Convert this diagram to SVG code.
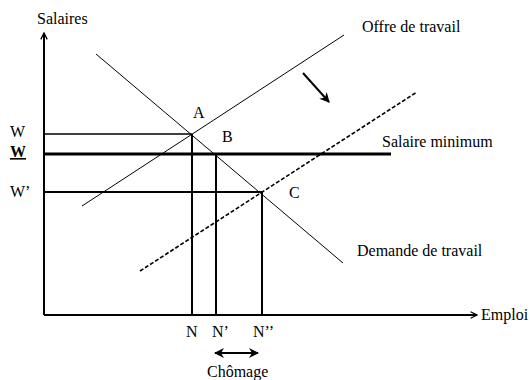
<svg xmlns="http://www.w3.org/2000/svg" width="530" height="380" viewBox="0 0 530 380">
<defs>
<marker id="ah" viewBox="0 0 10 10" refX="9" refY="5" markerWidth="5" markerHeight="5" orient="auto-start-reverse" markerUnits="userSpaceOnUse">
<path d="M0,0 L10,5 L0,10 L3,5 Z" fill="#000"/>
</marker>
<marker id="ax" viewBox="0 0 10 10" refX="9" refY="5" markerWidth="8" markerHeight="8" orient="auto" markerUnits="userSpaceOnUse">
<path d="M1,1 L9,5 L1,9" fill="none" stroke="#000" stroke-width="1.6"/>
</marker>
<marker id="big" viewBox="0 0 10 10" refX="9" refY="5" markerWidth="10" markerHeight="10" orient="auto-start-reverse" markerUnits="userSpaceOnUse">
<path d="M0,0 L10,5 L0,10 L3,5 Z" fill="#000"/>
</marker>
</defs>
<style>
text{font-family:"Liberation Serif","Times New Roman",serif;font-size:16px;fill:#000}
.thin{stroke:#000;stroke-width:1;fill:none}
.axis{stroke:#000;stroke-width:2;fill:none}
.v{stroke:#000;stroke-width:2;fill:none}
</style>
<rect width="530" height="380" fill="#fff"/>
<g id="connectors">
<line id="yaxis" class="axis" x1="44" y1="315" x2="44" y2="33" marker-end="url(#ax)"/>
<line id="xaxis" class="axis" x1="44" y1="315" x2="477" y2="315" marker-end="url(#ax)"/>
<line id="demande" class="thin" x1="96" y1="54" x2="343" y2="263"/>
<line id="offre" class="thin" x1="82" y1="206" x2="344" y2="35"/>
<line id="offre2" stroke="#000" stroke-width="1.6" stroke-dasharray="4,2" x1="140" y1="271" x2="417" y2="92"/>
<line id="wline" stroke="#000" stroke-width="1.3" x1="44" y1="134" x2="192" y2="134"/>
<line id="wmin" stroke="#000" stroke-width="3" x1="44" y1="154" x2="391" y2="154"/>
<line id="wprime" stroke="#000" stroke-width="2" x1="44" y1="192" x2="262" y2="192"/>
<line class="v" stroke-width="1.6" x1="192" y1="134" x2="192" y2="315"/>
<line class="v" x1="216" y1="154" x2="216" y2="315"/>
<line class="v" x1="262" y1="192" x2="262" y2="315"/>
<line id="shift" stroke="#000" stroke-width="2" x1="303" y1="73" x2="329" y2="102" marker-end="url(#big)"/>
<line id="chomage-arrow" stroke="#000" stroke-width="2" x1="215" y1="353" x2="258" y2="353" marker-start="url(#big)" marker-end="url(#big)"/>
</g>
<g id="labels">
<text x="37" y="24">Salaires</text>
<text x="481" y="320">Emploi</text>
<text x="362" y="32">Offre de travail</text>
<text x="382" y="147">Salaire minimum</text>
<text x="357" y="256">Demande de travail</text>
<text x="10" y="137">W</text>
<text x="10" y="157" font-weight="bold" text-decoration="underline">W</text>
<text x="10" y="197">W’</text>
<text x="193" y="118">A</text>
<text x="222" y="142">B</text>
<text x="289" y="198">C</text>
<text x="186" y="337">N</text>
<text x="212" y="337">N’</text>
<text x="253" y="337">N’’</text>
<text x="207" y="377">Chômage</text>
</g>
</svg>
